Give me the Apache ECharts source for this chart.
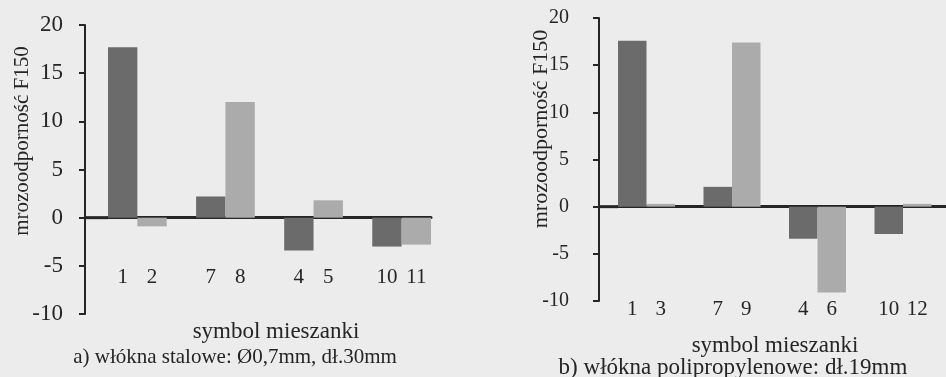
<!DOCTYPE html>
<html><head><meta charset="utf-8">
<script src="https://cdn.jsdelivr.net/npm/echarts@6/dist/echarts.min.js"></script>
<style>html,body{margin:0;padding:0;background:#ececec}#c{width:946px;height:377px}</style>
</head><body><div id="c"></div>
<script>
// ---- data ----
const catsA = ['1', '2', '', '7', '8', '', '4', '5', '', '10', '11'];
const valsA = [17.7, -0.9, null, 2.2, 12.0, null, -3.4, 1.8, null, -3.0, -2.8];
const catsB = ['1', '3', '', '7', '9', '', '4', '6', '', '10', '12', ''];
const valsB = [17.6, 0.3, null, 2.1, 17.4, null, -3.4, -9.1, null, -2.9, 0.3, null];
const yTicks = [-10, -5, 0, 5, 10, 15, 20];
const yTitle = 'mrozoodporność F150';
const xTitle = 'symbol mieszanki';
const captionA = 'a) włókna stalowe: Ø0,7mm, dł.30mm';
const captionB = 'b) włókna polipropylenowe: dł.19mm';

// ---- styles ----
const FONT = '"Liberation Serif","DejaVu Serif",serif';
const INK = '#252525';
const DARK = '#6b6b6b', LIGHT = '#ababab';

function shade(p) { return (p.dataIndex % 3 === 0) ? DARK : LIGHT; }

function yAxisCfg(gridIndex, offset, margin, fs) {
  return {
    type: 'value', gridIndex, min: yTicks[0], max: yTicks[yTicks.length - 1], interval: 5,
    offset,
    axisLine: { show: true, lineStyle: { color: INK, width: 2 } },
    axisTick: { show: true, length: 6, lineStyle: { color: INK, width: 2 } },
    axisLabel: { margin, fontFamily: FONT, fontSize: fs, color: INK },
    splitLine: { show: false }
  };
}
function xAxisCfg(gridIndex, data, margin) {
  return {
    type: 'category', gridIndex, data,
    axisLine: { onZero: true, lineStyle: { color: INK, width: 3 } },
    axisTick: { show: false },
    axisLabel: { interval: 0, margin, fontFamily: FONT, fontSize: 21, color: INK }
  };
}

const chart = echarts.init(document.getElementById('c'));
const option = {
  backgroundColor: '#ececec',
  animation: false,
  grid: [
    { left: 108, top: 25, width: 323, height: 289, outerBoundsMode: 'none', containLabel: false },
    { left: 618, top: 18, width: 342, height: 283, outerBoundsMode: 'none', containLabel: false }
  ],
  xAxis: [xAxisCfg(0, catsA, -47), xAxisCfg(1, catsB, -2)],
  yAxis: [yAxisCfg(0, 23, 22, 23), yAxisCfg(1, 19, 30, 20)],
  series: [
    { type: 'bar', xAxisIndex: 0, yAxisIndex: 0, data: valsA, barCategoryGap: 0,
      itemStyle: { color: shade } },
    { type: 'bar', xAxisIndex: 1, yAxisIndex: 1, data: valsB, barCategoryGap: 0,
      itemStyle: { color: shade } }
  ]
};
chart.setOption(option);

function stub(gi, x0) {
  const y = chart.convertToPixel({ yAxisIndex: gi }, 0);
  return { type: 'line', shape: { x1: x0, y1: y, x2: option.grid[gi].left, y2: y },
           style: { stroke: INK, lineWidth: 3 } };
}
function txt(x, y, t, fs, rot) {
  return { type: 'text', x, y, rotation: rot || 0,
    style: { text: t, fill: INK, font: fs + 'px ' + FONT, textAlign: 'center', textVerticalAlign: 'middle' } };
}
chart.setOption({
  graphic: [
    stub(0, 85), stub(1, 599),
    txt(22, 141, yTitle, 21, Math.PI / 2),
    txt(541, 129, yTitle, 22, Math.PI / 2),
    txt(276, 332, xTitle, 23),
    txt(775, 346, xTitle, 23),
    txt(235, 357, captionA, 21),
    txt(733, 368, captionB, 23)
  ]
});
</script>
</body></html>
